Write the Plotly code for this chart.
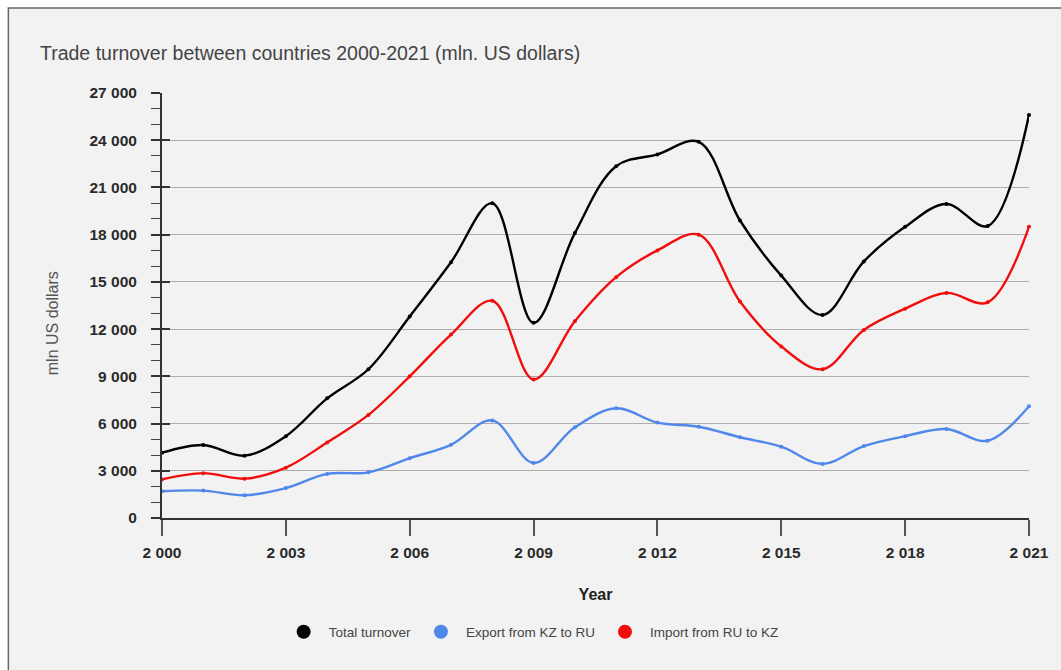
import plotly.graph_objects as go

# Trade between Kazakhstan and Russia, mln US dollars
years = list(range(2000, 2022))
total_turnover = [4150, 4640, 3960, 5200, 7600, 9450, 12800, 16250, 20000, 12400,
                  18100, 22350, 23100, 23900, 18900, 15400, 12900, 16300, 18500,
                  19950, 18550, 25600]
export_kz_ru = [1700, 1740, 1450, 1900, 2800, 2900, 3800, 4650, 6200, 3500,
                5760, 6970, 6060, 5800, 5130, 4530, 3430, 4570, 5200, 5650,
                4910, 7100]
import_ru_kz = [2450, 2850, 2500, 3200, 4800, 6550, 9000, 11650, 13800, 8800,
                12500, 15300, 17000, 18000, 13750, 10900, 9450, 11950, 13300,
                14300, 13700, 18500]

series_names = ["Total turnover", "Export from KZ to RU", "Import from RU to KZ"]
series_values = [total_turnover, export_kz_ru, import_ru_kz]
series_colors = ["#000000", "#4f87ea", "#f20d0d"]

x_ticks = list(range(2000, 2022, 3))
y_max = 27000

W, H = 1061, 670
L, R, T, B = 162, 30, 93, 152
plot_w, plot_h = W - L - R, H - T - B


def px_x(px):
    return (px - L) / plot_w


def px_y(py):
    return (H - B - py) / plot_h


fig = go.Figure()

for name, vals, col in zip(series_names, series_values, series_colors):
    fig.add_trace(go.Scatter(
        x=years, y=vals, mode="lines+markers", name=name,
        line=dict(color=col, width=2.4, shape="spline", smoothing=1),
        marker=dict(color=col, size=4),
        showlegend=False, cliponaxis=False, hoverinfo="x+y+name",
    ))

# legend entries drawn as plain dots
for name, col in zip(series_names, series_colors):
    fig.add_trace(go.Scatter(
        x=[None], y=[None], mode="markers", name=name,
        marker=dict(color=col, size=14), showlegend=True,
    ))

# overlay axis that gives the major y ticks their inner half
fig.add_trace(go.Scatter(x=[None], y=[None], yaxis="y2", showlegend=False))

FONT = "Liberation Sans, Arial, sans-serif"
tick_font = dict(family=FONT, size=15.5, color="#2a2a2a", weight="bold")

fig.update_layout(
    width=W, height=H,
    margin=dict(l=L, r=R, t=T, b=B, pad=0),
    paper_bgcolor="#ffffff",
    plot_bgcolor="#f2f2f2",
    separators=". ",
    font=dict(family=FONT, color="#333333"),
    title=dict(
        text="Trade turnover between countries 2000-2021 (mln. US dollars)",
        x=40 / W, xanchor="left", y=1 - 53 / H, yanchor="middle",
        font=dict(size=19.5, color="#444444"),
    ),
    xaxis=dict(
        range=[2000, 2021], tickvals=x_ticks, tickformat=",d",
        showgrid=False, zeroline=False,
        showline=True, linecolor="#333333", linewidth=2,
        ticks="outside", ticklen=16, tickwidth=2, tickcolor="#555555",
        tickfont=tick_font,
        ticklabelstandoff=3,
        title=dict(text="Year", font=dict(size=16, color="#222222", weight="bold"),
                   standoff=29),
    ),
    yaxis=dict(
        range=[0, y_max], dtick=3000, tick0=0, tickformat=",d",
        showgrid=True, gridcolor="#aeaeae", gridwidth=1.2,
        zeroline=False,
        showline=True, linecolor="#333333", linewidth=2,
        ticks="outside", ticklen=9, tickwidth=1.5, tickcolor="#333333",
        minor=dict(dtick=1000, ticks="outside", ticklen=9, tickwidth=1.2,
                   tickcolor="#444444", showgrid=False),
        tickfont=tick_font,
        ticklabelstandoff=11,
    ),
    yaxis2=dict(
        overlaying="y", matches="y", side="left",
        range=[0, y_max], dtick=3000, tick0=0,
        showgrid=False, zeroline=False, showline=False,
        ticks="inside", ticklen=8, tickwidth=1.5, tickcolor="#333333",
        showticklabels=False,
    ),
    legend=dict(
        orientation="h", x=px_x(532), xanchor="center",
        y=px_y(632), yanchor="middle",
        font=dict(size=13.5, color="#444444"),
        bgcolor="rgba(0,0,0,0)", itemwidth=40,
    ),
    showlegend=True,
    shapes=[dict(
        type="rect", xref="paper", yref="paper", layer="below",
        x0=px_x(8), x1=px_x(1095), y0=px_y(690), y1=px_y(8),
        line=dict(color="#666666", width=1.5), fillcolor="#f2f2f2",
    )],
    annotations=[dict(
        text="mln US dollars", textangle=-90, showarrow=False,
        xref="paper", yref="paper", x=px_x(52), y=px_y(323),
        xanchor="center", yanchor="middle",
        font=dict(size=16, color="#555555"),
    )],
)

fig.write_html("out.html")
